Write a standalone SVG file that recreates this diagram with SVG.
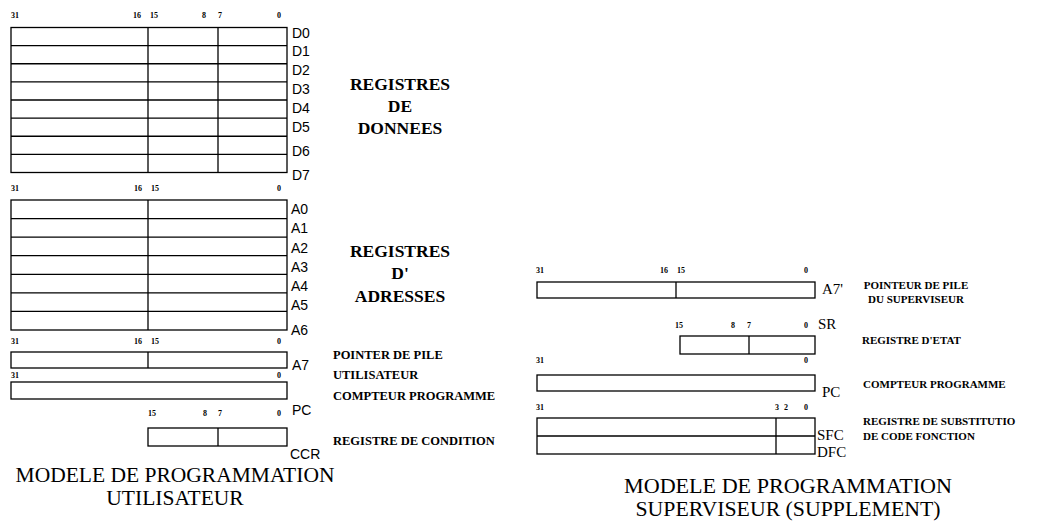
<svg xmlns="http://www.w3.org/2000/svg" width="1038" height="521" viewBox="0 0 1038 521">
<style>
rect.r{fill:none;stroke:#000;stroke-width:1.3}
line{stroke:#000;stroke-width:1.3}
.bit{font-family:"Liberation Serif",serif;font-weight:bold;font-size:8px;text-anchor:middle;fill:#000}
.reg{font-family:"Liberation Sans",sans-serif;font-size:14px;fill:#000}
.regs{font-family:"Liberation Serif",serif;font-size:15px;fill:#000}
.grp{font-family:"Liberation Serif",serif;font-weight:bold;font-size:17.5px;text-anchor:middle;fill:#000}
.lab{font-family:"Liberation Serif",serif;font-weight:bold;font-size:12.5px;fill:#000}
.labr{font-family:"Liberation Serif",serif;font-weight:bold;font-size:11px;fill:#000}
.title{font-family:"Liberation Serif",serif;font-size:21.5px;text-anchor:middle;fill:#000}
.title2{font-family:"Liberation Serif",serif;font-size:20px;text-anchor:middle;fill:#000}
</style>
<rect width="1038" height="521" fill="#fff"/>

<g id="data-registers">
<text class="bit" x="15" y="18">31</text><text class="bit" x="137" y="18">16</text><text class="bit" x="154" y="18">15</text><text class="bit" x="204" y="18">8</text><text class="bit" x="220" y="18">7</text><text class="bit" x="279" y="18">0</text>
<rect class="r" x="11" y="27.5" width="276" height="145"/>
<line x1="11" y1="45.6" x2="287" y2="45.6"/><line x1="11" y1="63.75" x2="287" y2="63.75"/><line x1="11" y1="81.9" x2="287" y2="81.9"/><line x1="11" y1="100" x2="287" y2="100"/><line x1="11" y1="118.1" x2="287" y2="118.1"/><line x1="11" y1="136.25" x2="287" y2="136.25"/><line x1="11" y1="154.4" x2="287" y2="154.4"/>
<line x1="148" y1="27.5" x2="148" y2="172.5"/><line x1="218" y1="27.5" x2="218" y2="172.5"/>
<text class="reg" x="292" y="38">D0</text><text class="reg" x="292" y="56">D1</text><text class="reg" x="292" y="75">D2</text><text class="reg" x="292" y="94">D3</text><text class="reg" x="292" y="113">D4</text><text class="reg" x="292" y="132">D5</text><text class="reg" x="292" y="156">D6</text><text class="reg" x="292" y="180">D7</text>
<text class="grp" x="400" y="90">REGISTRES</text><text class="grp" x="400" y="112">DE</text><text class="grp" x="400" y="134">DONNEES</text>
</g>

<g id="address-registers">
<text class="bit" x="15" y="191">31</text><text class="bit" x="138" y="191">16</text><text class="bit" x="155" y="191">15</text><text class="bit" x="279" y="191">0</text>
<rect class="r" x="11" y="200" width="276" height="130"/>
<line x1="11" y1="218.6" x2="287" y2="218.6"/><line x1="11" y1="237.1" x2="287" y2="237.1"/><line x1="11" y1="255.7" x2="287" y2="255.7"/><line x1="11" y1="274.3" x2="287" y2="274.3"/><line x1="11" y1="292.9" x2="287" y2="292.9"/><line x1="11" y1="311.4" x2="287" y2="311.4"/>
<line x1="148" y1="200" x2="148" y2="330"/>
<text class="reg" x="291" y="214">A0</text><text class="reg" x="291" y="233">A1</text><text class="reg" x="291" y="253">A2</text><text class="reg" x="291" y="272">A3</text><text class="reg" x="291" y="291">A4</text><text class="reg" x="291" y="310">A5</text><text class="reg" x="291" y="335">A6</text>
<text class="grp" x="400" y="257">REGISTRES</text><text class="grp" x="400" y="279">D'</text><text class="grp" x="400" y="302">ADRESSES</text>
</g>

<g id="user-stack-pointer">
<text class="bit" x="15" y="344">31</text><text class="bit" x="138" y="344">16</text><text class="bit" x="155" y="344">15</text><text class="bit" x="279" y="344">0</text>
<rect class="r" x="11" y="352" width="276" height="16"/>
<line x1="148" y1="352" x2="148" y2="368"/>
<text class="reg" x="292" y="370">A7</text>
<text class="lab" x="333" y="359">POINTER DE PILE</text><text class="lab" x="333" y="379">UTILISATEUR</text>
</g>

<g id="user-pc">
<text class="bit" x="15" y="378">31</text><text class="bit" x="279" y="378">0</text>
<rect class="r" x="11" y="382" width="276" height="17"/>
<text class="reg" x="292" y="415">PC</text>
<text class="lab" x="333" y="400">COMPTEUR PROGRAMME</text>
</g>

<g id="ccr">
<text class="bit" x="152" y="416">15</text><text class="bit" x="205" y="416">8</text><text class="bit" x="220" y="416">7</text><text class="bit" x="279" y="416">0</text>
<rect class="r" x="148" y="428" width="139" height="18"/>
<line x1="218" y1="428" x2="218" y2="446"/>
<text class="reg" x="290" y="459">CCR</text>
<text class="lab" x="333" y="445">REGISTRE DE CONDITION</text>
</g>

<g id="title-user">
<text class="title" x="175" y="482">MODELE DE PROGRAMMATION</text>
<text class="title" x="175" y="505">UTILISATEUR</text>
</g>

<g id="supervisor-stack-pointer">
<text class="bit" x="540" y="273">31</text><text class="bit" x="664" y="273">16</text><text class="bit" x="681" y="273">15</text><text class="bit" x="806" y="273">0</text>
<rect class="r" x="537" y="282" width="278" height="16"/>
<line x1="676" y1="282" x2="676" y2="298"/>
<text class="regs" x="822" y="294">A7'</text>
<text class="labr" x="916" y="289" text-anchor="middle">POINTEUR DE PILE</text><text class="labr" x="916" y="303" text-anchor="middle">DU SUPERVISEUR</text>
</g>

<g id="sr">
<text class="bit" x="679" y="328">15</text><text class="bit" x="733" y="328">8</text><text class="bit" x="749" y="328">7</text><text class="bit" x="806" y="328">0</text>
<rect class="r" x="680" y="336" width="135" height="18"/>
<line x1="749" y1="336" x2="749" y2="354"/>
<text class="regs" x="818" y="329">SR</text>
<text class="labr" x="862" y="344">REGISTRE D'ETAT</text>
</g>

<g id="supervisor-pc">
<text class="bit" x="540" y="363">31</text><text class="bit" x="806" y="363">0</text>
<rect class="r" x="537" y="375" width="278" height="16"/>
<text class="regs" x="822" y="397">PC</text>
<text class="labr" x="863" y="388">COMPTEUR PROGRAMME</text>
</g>

<g id="sfc-dfc">
<text class="bit" x="540" y="410">31</text><text class="bit" x="777" y="410">3</text><text class="bit" x="786" y="410">2</text><text class="bit" x="806" y="410">0</text>
<rect class="r" x="537" y="418" width="278" height="36"/>
<line x1="537" y1="436" x2="815" y2="436"/>
<line x1="776" y1="418" x2="776" y2="454"/>
<text class="regs" x="817" y="440">SFC</text><text class="regs" x="817" y="457">DFC</text>
<text class="labr" x="863" y="425">REGISTRE DE SUBSTITUTIO</text><text class="labr" x="863" y="440">DE CODE FONCTION</text>
</g>

<g id="title-supervisor">
<text class="title2" x="788" y="493" textLength="328" lengthAdjust="spacingAndGlyphs">MODELE DE PROGRAMMATION</text>
<text class="title2" x="788" y="516" textLength="305" lengthAdjust="spacingAndGlyphs">SUPERVISEUR (SUPPLEMENT)</text>
</g>
</svg>
